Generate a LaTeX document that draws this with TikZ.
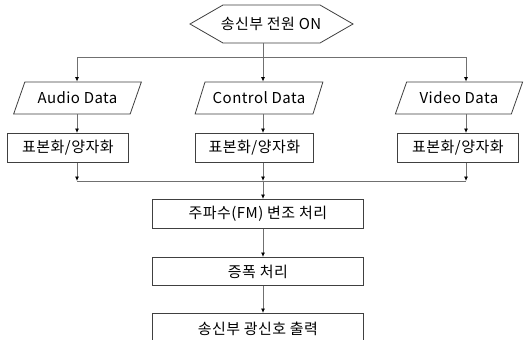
\documentclass[tikz,border=0pt]{standalone}
\usepackage{fontspec}
\setmainfont{Noto Sans CJK KR}[LetterSpace=3]
\usetikzlibrary{shapes.geometric,arrows.meta}
\definecolor{lin}{HTML}{707070}
\definecolor{brd}{HTML}{404040}
\begin{document}
\begin{tikzpicture}[x=1pt,y=-1pt,
  every node/.style={font=\fontsize{15}{17}\selectfont, inner sep=0pt, text=black},
  boxst/.style={draw=brd, line width=0.8pt, rectangle, minimum height=29, anchor=north west},
  parast/.style={draw=brd, line width=0.8pt, trapezium, trapezium left angle=55, trapezium right angle=125,
     trapezium stretches=true, minimum width=128, minimum height=32},
  conn/.style={draw=lin, line width=0.8pt},
  arr/.style={conn, -{Latex[black,length=4.5pt,width=4pt]}}]
\useasboundingbox (0,0) rectangle (525,340);
\fill[white] (0,0) rectangle (525,340);
% hexagon
\draw[draw=brd, line width=0.8pt] (190,24) -- (223,5) -- (320,5) -- (353,24) -- (320,43) -- (223,43) -- cycle;
\node (hex) at (271,24) {송신부 전원 ON};
\coordinate (hb) at (263,43);
\coordinate (sp) at (263,57);
\coordinate (sl) at (77,57);
\coordinate (sr) at (466,57);
% data parallelograms
\node[parast] (pa) at (77.5,98) {Audio Data};
\node[parast] (pc) at (259,98) {Control Data};
\node[parast] (pv) at (459,98) {Video Data};
% sampling boxes
\node[boxst, minimum width=121] (ra) at (7,133) {};
\node at (ra.center) {표본화/양자화};
\node[boxst, minimum width=118] (rc) at (195,133) {};
\node at (rc.center) {표본화/양자화};
\node[boxst, minimum width=121] (rv) at (397,133) {};
\node at (rv.center) {표본화/양자화};
\coordinate (ml) at (77,181);
\coordinate (mc) at (263,181);
\coordinate (mr) at (466,181);
% processing boxes
\node[boxst, minimum width=211] (fm) at (152,199) {};
\node at (fm.center) {주파수(FM) 변조 처리};
\node[boxst, minimum width=211, minimum height=28] (amp) at (152,257) {};
\node at (amp.center) {증폭 처리};
\node[boxst, minimum width=211] (out) at (152,313) {};
\node at ([yshift=-1pt]out.center) {송신부 광신호 출력};
% connectors
\draw[conn] (hb) -- (sp);
\draw[conn] (sl) -- (sr);
\draw[arr] (sl) -- (sl |- pa.north);
\draw[arr] (sp) -- (sp |- pc.north);
\draw[arr] (sr) -- (sr |- pv.north);
\draw[arr] (sl |- pa.south) -- (sl |- ra.north);
\draw[arr] (sp |- pc.south) -- (sp |- rc.north);
\draw[arr] (sr |- pv.south) -- (sr |- rv.north);
\draw[arr] (sl |- ra.south) -- (ml);
\draw[arr] (sp |- rc.south) -- (mc);
\draw[arr] (sr |- rv.south) -- (mr);
\draw[conn] (ml) -- (mr);
\draw[arr] (mc) -- (mc |- fm.north);
\draw[arr] (mc |- fm.south) -- (mc |- amp.north);
\draw[arr] (mc |- amp.south) -- (mc |- out.north);
\end{tikzpicture}
\end{document}
